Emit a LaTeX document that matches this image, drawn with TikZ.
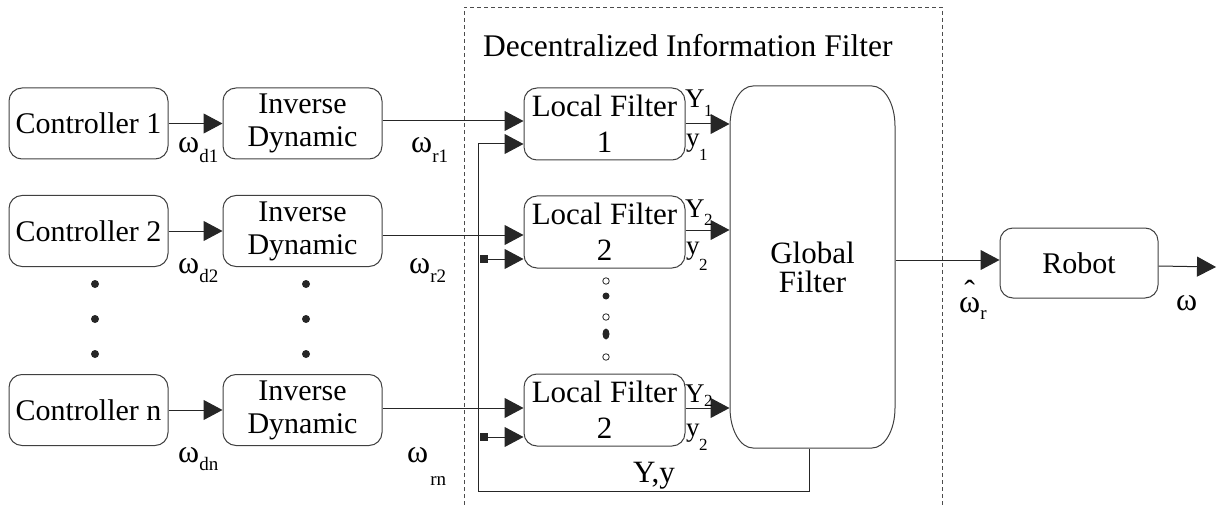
\documentclass[tikz,border=0pt]{standalone}
\usepackage{fontspec}
\setmainfont{Liberation Serif}
\usetikzlibrary{arrows.meta,calc,shapes.geometric}
\newcommand\fs[1]{\fontsize{#1}{#1}\selectfont}
\newcommand\lsub[3]{#1\raisebox{-#3pt}{\fs{19}#2}}
\newcommand\ysub[3]{{\fs{27}#1}\kern-0.5pt\raisebox{-#3pt}{\fs{17}#2}}
\newcommand\hatw{\ooalign{ω\cr\hidewidth\raisebox{10pt}{ˆ}\hidewidth\cr}}
\begin{document}
\begin{tikzpicture}[x=1pt,y=-1pt,
  box/.style={draw=black!75, line width=1pt, rounded corners=13pt, minimum width=159pt, minimum height=71pt, inner sep=0pt, align=center, font=\fontsize{30}{33}\selectfont, text=black},
  lbox/.style={box, minimum width=161pt, minimum height=72pt, font=\fontsize{31}{36}\selectfont},
  arr/.style={draw=black!85, line width=1pt, -{Triangle[length=19pt,width=20pt]}},
  sqarr/.style={arr, {Square[length=8pt,width=8pt]}-{Triangle[length=19pt,width=20pt]}},
  lab/.style={anchor=base west, inner sep=0pt, font=\fs{32}},
  dot/.style={circle, fill=black!85, minimum size=8pt, inner sep=0pt},
  odot/.style={circle, draw=black!85, line width=0.8pt, fill=white, minimum size=6.5pt, inner sep=0pt},
  dashbox/.style={draw=black!70, line width=0.8pt, dash pattern=on 4pt off 3pt},
]
\useasboundingbox (0,0) rectangle (1220,505);
% dashed frame
\draw[dashbox] (464,505) -- (464,7) -- (942,7) -- (942,505);
\node[lab, font=\fs{31.5}] (title) at (483,57) {Decentralized Information Filter};
% boxes
\node[box] (c1) at (88.5,123.5) {Controller 1};
\node[box] (c2) at (88.5,231) {Controller 2};
\node[box] (cn) at (88.5,410) {Controller n};
\node[box] (i1) at (302.5,123.5) {Inverse\\Dynamic};
\node[box] (i2) at (302.5,231) {Inverse\\Dynamic};
\node[box] (in) at (302.5,410) {Inverse\\Dynamic};
\node[lbox] (l1) at (604.5,124) {Local Filter\\1};
\node[lbox] (l2) at (604.5,232) {Local Filter\\2};
\node[lbox] (ln) at (604.5,410) {Local Filter\\2};
\node[box, draw=none, minimum width=165pt, minimum height=362pt, font=\fontsize{31}{29}\selectfont] (g) at (812.5,267) {Global\\Filter};
\draw[draw=black!75, line width=1pt] (753,86) -- (872,86) .. controls (884.7,86) and (895,104) .. (895,126) -- (895,408) .. controls (895,430) and (884.7,448) .. (872,448) -- (753,448) .. controls (740.3,448) and (730,430) .. (730,408) -- (730,126) .. controls (730,104) and (740.3,86) .. (753,86) -- cycle;
\node[box, minimum width=158pt, minimum height=70pt] (r) at (1079,263) {Robot};
% connectors
\draw[arr] (c1) -- (i1);
\draw[arr] (c2) -- (i2);
\draw[arr] (cn) -- (in);
\draw[arr] ($(l1.west -| i1.east)+(0,-3)$) -- ($(l1.west)+(0,-3)$);
\draw[arr] ($(l2.west -| i2.east)+(0,3)$) -- ($(l2.west)+(0,3)$);
\draw[arr] ($(ln.west -| in.east)+(0,-2)$) -- ($(ln.west)+(0,-2)$);
\coordinate (fb) at (478,491);
\draw[arr] ($(g.south)+(-3.5,0)$) |- (fb) |- ($(l1.west)+(0,20)$);
\draw[sqarr] ($(l2.west -| fb)+(2,27)$) -- ($(l2.west)+(0,27)$);
\draw[sqarr] ($(ln.west -| fb)+(2,27)$) -- ($(ln.west)+(0,27)$);
\draw[arr] (l1.east) -- (l1.east -| g.west);
\draw[arr] ($(l2.east)+(0,-2)$) -- ($(l2.east -| g.west)+(0,-2)$);
\draw[arr] ($(ln.east)+(0,-2)$) -- ($(ln.east -| g.west)+(0,-2)$);
\draw[arr] ($(r.west -| g.east)+(0,-3)$) -- ($(r.west)+(0,-3)$);
\coordinate (out) at (1216,267);
\draw[arr] ($(r.east)+(0,3)$) -- (out);
% labels
\node[lab] (wd1) at (178,153) {\lsub{ω}{d1}{10}};
\node[lab] (wd2) at (178,273) {\lsub{ω}{d2}{9}};
\node[lab] (wdn) at (178,462) {\lsub{ω}{dn}{8}};
\node[lab] (wr1) at (411,153) {\lsub{ω}{r1}{10}};
\node[lab] (wr2) at (409,273) {\lsub{ω}{r2}{9}};
\node[lab] (wrn) at (407,462) {\lsub{ω}{\hspace{2pt}rn}{23}};
\node[lab] (wh) at (959,312) {\lsub{\hatw}{r}{7}};
\node[lab] (w) at (1176,310) {ω};
\node[lab] (Y1) at (685,108) {\ysub{Y}{1}{9}};
\node[lab] (y1) at (686,147) {\ysub{y}{1}{14}};
\node[lab] (Y2) at (685,217) {\ysub{Y}{2}{9}};
\node[lab] (y2) at (686,254) {\ysub{y}{2}{16}};
\node[lab] (Yn) at (685,402) {\ysub{Y}{2}{4}};
\node[lab] (yn) at (686,436) {\ysub{y}{2}{14}};
\node[lab, font=\fs{31}] (Yy) at (633,482) {Y,y};
% dots
\foreach \yy/\nm in {284/a,319/b,354/c}{
  \node[dot] (cd\nm) at (95,\yy) {};
  \node[dot] (id\nm) at (306,\yy) {};
}
\node[odot] (o1) at (606,281) {};
\node[dot, minimum size=7pt] (f1) at (606,296) {};
\node[odot] (o2) at (606,317) {};
\node[ellipse, fill=black!85, minimum width=7pt, minimum height=11pt, inner sep=0pt] (f2) at (606,334) {};
\node[odot] (o3) at (606,357) {};
\end{tikzpicture}
\end{document}
